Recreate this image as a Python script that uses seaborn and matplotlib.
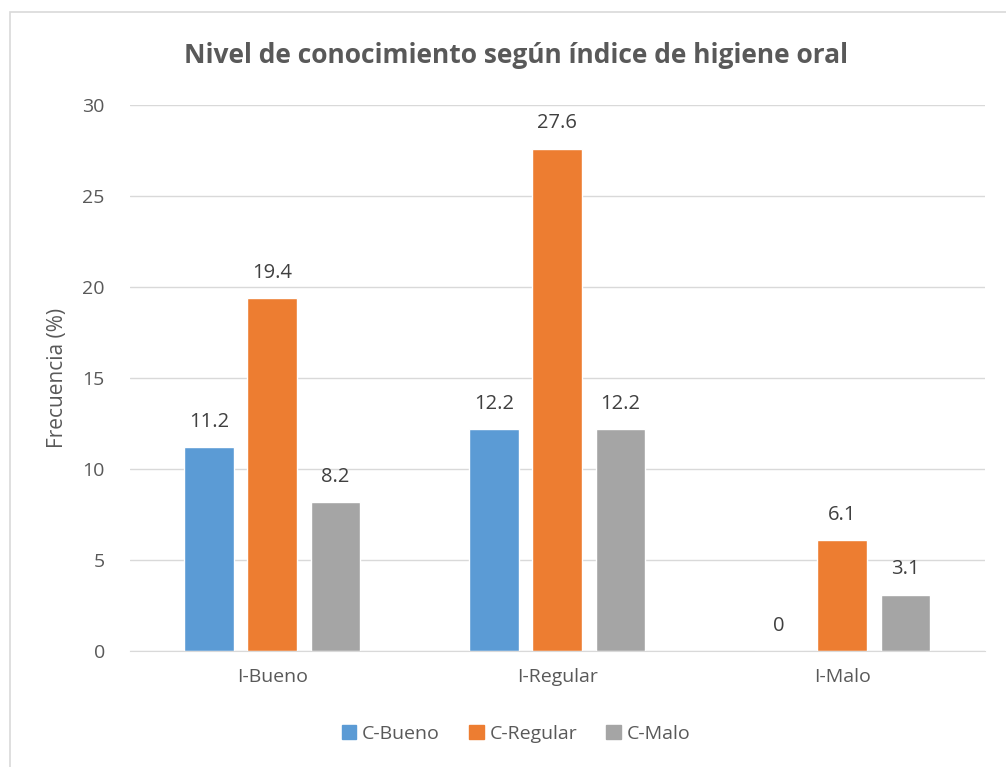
import numpy as np
import pandas as pd
import matplotlib
matplotlib.use("Agg")
import matplotlib.pyplot as plt
import seaborn as sns
from matplotlib.patches import Rectangle

# Data
indices = ["I-Bueno", "I-Regular", "I-Malo"]
c_bueno = [11.2, 12.2, 0]
c_regular = [19.4, 27.6, 6.1]
c_malo = [8.2, 12.2, 3.1]
series = ["C-Bueno", "C-Regular", "C-Malo"]
colors = ["#5b9bd5", "#ed7d31", "#a5a5a5"]

df = pd.DataFrame({
    "indice": indices * 3,
    "nivel": [s for s in series for _ in indices],
    "valor": c_bueno + c_regular + c_malo,
})

sns.set_style("white")
plt.rcParams["font.family"] = ["Open Sans", "DejaVu Sans"]

fig = plt.figure(figsize=(10.06, 7.67), dpi=100)
ax = fig.add_axes([0.129, 0.151, 0.850, 0.712])

# chart border
fig.patches.append(Rectangle((0.010, -0.01), 1.0, 0.995, transform=fig.transFigure,
                             fill=False, edgecolor="#d9d9d9", linewidth=1.2))

sns.barplot(data=df, x="indice", y="valor", hue="nivel", hue_order=series,
            palette=colors, width=0.665, gap=0.21, saturation=1, ax=ax,
            legend=False)

for cont in ax.containers:
    ax.bar_label(cont, labels=[f"{v:g}" for v in cont.datavalues], padding=11,
                 fontsize=14.5, color="#404040")

ax.set_ylim(0, 30)
ax.set_xlim(-0.5, 2.5)
ax.set_yticks(range(0, 31, 5))
ax.yaxis.grid(True, color="#d9d9d9", linewidth=1)
ax.set_axisbelow(True)
for s in ["top", "right", "left"]:
    ax.spines[s].set_visible(False)
ax.spines["bottom"].set_color("#d9d9d9")
ax.tick_params(axis="both", length=0, labelsize=14, colors="#595959")
ax.tick_params(axis="y", pad=18)
ax.tick_params(axis="x", pad=12)
ax.set_xlabel("")
ax.set_ylabel("Frecuencia (%)", fontsize=15, color="#595959", labelpad=10)

fig.text(0.513, 0.927, "Nivel de conocimiento según índice de higiene oral",
         ha="center", va="center", fontsize=19, fontweight="bold", color="#595959")

handles = [Rectangle((0, 0), 1, 1, color=c) for c in colors]
fig.legend(handles, series, loc="center", bbox_to_anchor=(0.513, 0.043), ncol=3,
           frameon=False, fontsize=14, handlelength=0.75, handleheight=0.75,
           handletextpad=0.3, columnspacing=1.5, labelcolor="#595959")

fig.savefig("out.png", dpi=100)
